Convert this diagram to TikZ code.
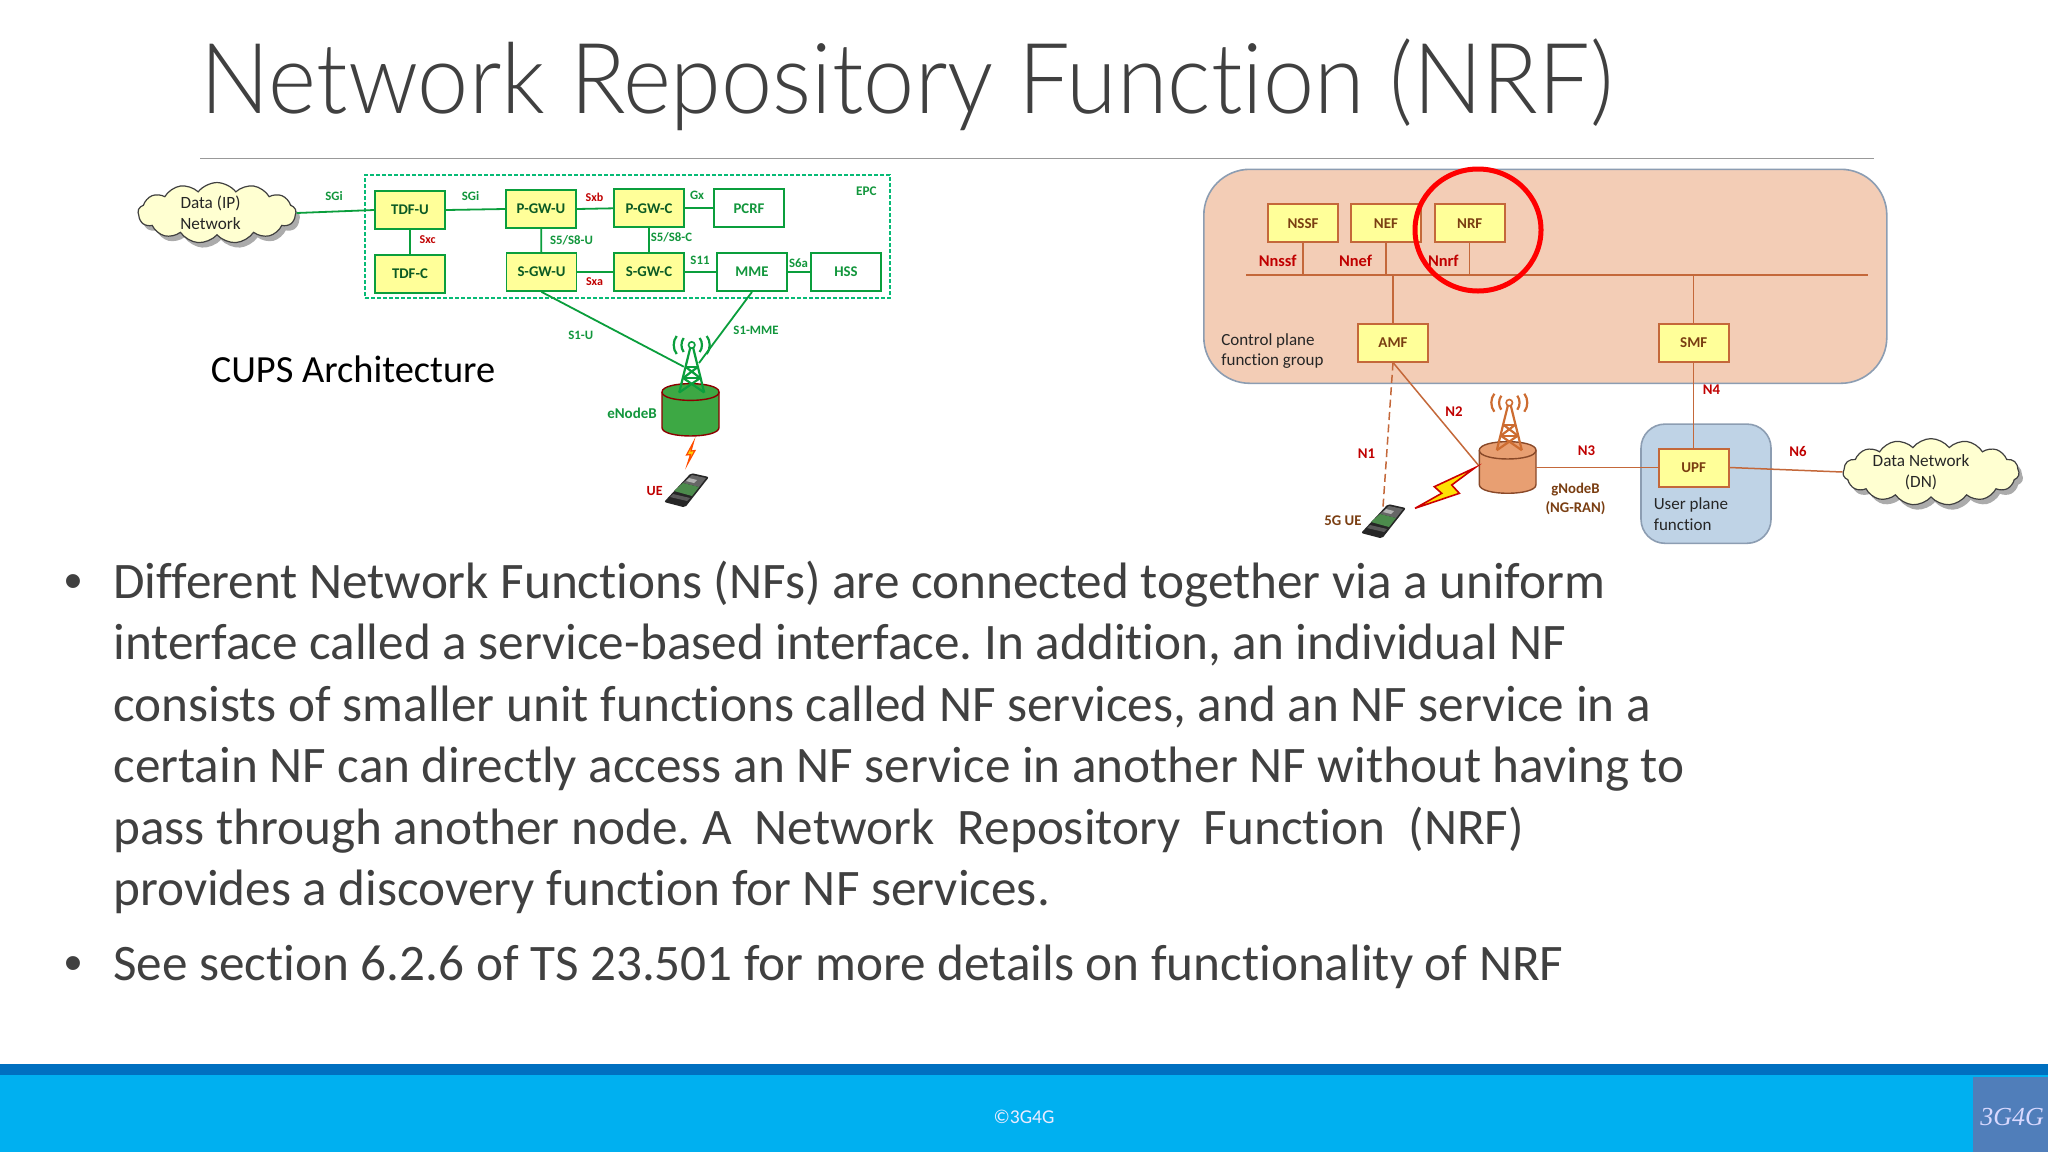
\documentclass[tikz,border=0pt]{standalone}
\usepackage{fontspec}
\setmainfont{Carlito}[Ligatures=NoCommon]
\newfontfamily\titlefont{Lato Light}[FakeStretch=0.937,Ligatures=NoCommon]
\newfontfamily\logofont{Liberation Serif}
\newfontfamily\bulfont{Liberation Sans}
\usetikzlibrary{shapes.geometric,shapes.symbols,shadows,calc}
\definecolor{gline}{HTML}{0A9E3C}
\definecolor{gtxt}{HTML}{12963C}
\definecolor{rtxt}{HTML}{C00000}
\definecolor{brn}{HTML}{C4683A}
\definecolor{btxt}{HTML}{7A3E12}
\definecolor{ybox}{HTML}{FFFF99}
\definecolor{slate}{HTML}{404040}
\definecolor{cpfill}{HTML}{F3CDB6}
\definecolor{upfill}{HTML}{BFD3E6}
\definecolor{panedge}{HTML}{8C9DB2}
\definecolor{cylgreen}{HTML}{3DA844}
\definecolor{cylorange}{HTML}{E89F72}
\newcommand{\mycyl}[8]{% name, xl, xr, ytopcentre, ybotcentre, body, edge, ry
  \fill[#6] (#2,#4) -- (#2,#5) .. controls (#2,#5+#8*1.33) and (#3,#5+#8*1.33) .. (#3,#5) -- (#3,#4) -- cycle;
  \draw[#7,line width=0.7pt] (#2,#4) -- (#2,#5) .. controls (#2,#5+#8*1.33) and (#3,#5+#8*1.33) .. (#3,#5) -- (#3,#4);
  \filldraw[fill=#6,draw=#7,line width=0.7pt] (#2,#4) .. controls (#2,#4-#8*1.33) and (#3,#4-#8*1.33) .. (#3,#4) .. controls (#3,#4+#8*1.33) and (#2,#4+#8*1.33) .. (#2,#4) -- cycle;
  \node[inner sep=0pt,minimum width=28pt,minimum height=20pt] (#1) at ({(#2+#3)/2},{(#4+#5)/2}) {};
}
\tikzset{
 x=0.5pt,y=-0.5pt,
 gbox/.style={draw=gline,line width=0.9pt,fill=ybox,minimum width=35pt,minimum height=19pt,inner sep=0pt,text=gtxt!60!black,font=\fontsize{7.4}{9}\selectfont\bfseries},
 wbox/.style={gbox,fill=white,text=gtxt},
 obox/.style={draw=brn,line width=1pt,fill=ybox,minimum width=35pt,minimum height=19pt,inner sep=0pt,text=btxt,font=\fontsize{7.5}{9}\selectfont\bfseries},
 gl/.style={draw=gline,line width=0.9pt},
 ol/.style={draw=brn,line width=0.75pt},
 glab/.style={text=gtxt,inner sep=0pt,font=\fontsize{6.4}{8}\selectfont\bfseries},
 rlab/.style={text=rtxt,inner sep=0pt,font=\fontsize{6}{7}\selectfont\bfseries},
 nlab/.style={text=rtxt,inner sep=0pt,font=\fontsize{7.4}{9}\selectfont\bfseries},
 blab/.style={text=btxt,inner sep=0pt,font=\fontsize{7.4}{9}\selectfont\bfseries},
 klab/.style={text=black!85,inner sep=0pt,font=\fontsize{8.5}{10}\selectfont},
 body/.style={anchor=base west,inner sep=0pt,text=slate,font=\frenchspacing\fontsize{25.6}{31}\selectfont},
 bull/.style={anchor=base,inner sep=0pt,text=slate,font=\bulfont\fontsize{25.6}{31}\selectfont},
 dcloud/.style={cloud,cloud puffs=13,cloud puff arc=105,aspect=2.6,draw=black!75,line width=0.6pt,fill=ybox!45!white,inner sep=0pt,align=center,text=black!85,
   font=\fontsize{8.6}{10.5}\selectfont,drop shadow={shadow xshift=2pt,shadow yshift=-2.5pt,fill=black!55,opacity=.6}},
 tower/.pic={
   \begin{scope}[draw=#1,line width=1.1pt]
   \draw (-12.5,47.5) -- (-1.5,3) (12.5,47.5) -- (1.5,3);
   \draw (-6,22) -- (6,22) (-8.5,33) -- (8.5,33);
   \draw (-6,22) -- (8.5,33) (6,22) -- (-8.5,33) (-8.5,33) -- (12.5,47.5) (8.5,33) -- (-12.5,47.5);
   \draw[line width=.8pt] (0,0) circle[radius=3.2];
   \draw (-8,-7) .. controls (-11,-3) and (-11,3) .. (-8,7);
   \draw (8,-7) .. controls (11,-3) and (11,3) .. (8,7);
   \draw (-15,-9) .. controls (-19,-4) and (-19,4) .. (-15,9);
   \draw (15,-9) .. controls (19,-4) and (19,4) .. (15,9);
   \end{scope}},
 phone/.pic={
   \fill[black!85,rounded corners=1pt] (5,-17) -- (23,-13) -- (-1,17.5) -- (-22,12) -- cycle;
   \fill[black!60] (6,-15) -- (20,-12) -- (13,-3) -- (-3,-7) -- cycle;
   \fill[white!70!black] (3,-12) -- (11,-10) -- (8,-7) -- (0,-9) -- cycle;
   \fill[green!35!black!70] (-3,-7) -- (13,-3) -- (6,6) -- (-12,1) -- cycle;
   \fill[black!65] (-13,4) -- (4,8) -- (1,11) -- (-16,7) -- cycle;
 }
}
\begin{document}
\begin{tikzpicture}
\useasboundingbox (0,0) rectangle (2048,1152);
\fill[white] (0,0) rectangle (2048,1152);

% ---- title
\node[anchor=base west,inner sep=0pt,text=slate,font=\titlefont\fontsize{49}{59}\selectfont] (title) at (200.5,113) {Network Repository Function (NRF)};
\coordinate (ruleL) at (200,158.7);
\coordinate (ruleR) at (1874,158.7);
\draw[black!40,line width=0.6pt] (ruleL) -- (ruleR);

% ---- left: EPC
\node[draw=gline!70!cyan,dash pattern=on 2pt off 1pt,line width=0.6pt,minimum width=262.5pt,minimum height=61.5pt,inner sep=0pt] (epc) at (627.5,236.5) {};
\node[gbox] (tdfu) at (410,210) {TDF-U};
\node[gbox] (pgwu) at (541,209) {P-GW-U};
\node[gbox] (pgwc) at (649,208.3) {P-GW-C};
\node[wbox] (pcrf) at (749,208.3) {PCRF};
\node[gbox] (tdfc) at (410,274) {TDF-C};
\node[gbox] (sgwu) at (541.5,272) {S-GW-U};
\node[gbox] (sgwc) at (649,272) {S-GW-C};
\node[wbox] (mme) at (752,272) {MME};
\node[wbox] (hss) at (846,272) {HSS};
\node[dcloud,minimum width=79pt,minimum height=30pt] (dip) at (217,213) {Data (IP)\hspace*{6.5pt}\\Network\hspace*{6.5pt}};

\draw[gl] (dip.east) -- (tdfu.west);
\draw[gl] (tdfu.east) -- (pgwu.west);
\draw[gl] (pgwu.east) -- (pgwc.west);
\draw[gl] (pgwc.east) -- (pcrf.west);
\draw[gl] (tdfu) -- (tdfc);
\draw[gl] (pgwu) -- (sgwu);
\draw[gl] (pgwc) -- (sgwc);
\draw[gl] (sgwu) -- (sgwc);
\draw[gl] (sgwc) -- (mme);
\draw[gl] (mme) -- (hss);

\node[glab] (l1) at (334,196) {SGi};
\node[glab] (l2) at (470.5,196) {SGi};
\node[rlab] (l3) at (594.5,197.7) {Sxb};
\node[glab] (l4) at (697,195) {Gx};
\node[glab,font=\fontsize{6.6}{8}\selectfont\bfseries] (l5) at (866.4,191.7) {EPC};
\node[rlab] (l6) at (427.6,240) {Sxc};
\node[glab] (l7) at (571.5,240) {S5/S8-U};
\node[glab] (l8) at (671.5,237.7) {S5/S8-C};
\node[glab] (l9) at (700,260.7) {S11};
\node[glab] (l10) at (798.6,262.7) {S6a};
\node[rlab] (l11) at (594.5,282) {Sxa};
\node[glab] (l12) at (580.7,335.7) {S1-U};
\node[glab] (l13) at (756,330.3) {S1-MME};
\node[glab,font=\fontsize{7.5}{9}\selectfont\bfseries] (l14) at (632,413) {eNodeB};
\node[rlab,font=\fontsize{7}{8}\selectfont\bfseries] (l15) at (654.7,491) {UE};
\node[inner sep=0pt,text=black,font=\fontsize{19.2}{23}\selectfont] (cups) at (353,369) {CUPS Architecture};

% eNodeB
\mycyl{enb}{662}{719}{392}{427.6}{cylgreen}{red!55!black}{8.4}
\coordinate (twrL) at (691.7,345);
\coordinate (s1u) at (683.8,366.7);
\coordinate (s1m) at (699,363);
\draw[gl] (sgwu.south) -- (s1u);
\draw[gl] (mme.south) -- (s1m);
\pic at (twrL) {tower=gline};
\draw[draw=orange!60!red,line width=0.6pt,fill=yellow!70!orange] (693.5,442) -- (686.5,455) -- (690.5,454.5) -- (687.5,464) -- (695,450.5) -- (691,451) -- cycle;
\pic at (686,490) {phone};

% ---- right: control plane
\node[draw=panedge,line width=0.8pt,fill=cpfill,rounded corners=23pt,minimum width=341.5pt,minimum height=107pt,inner sep=0pt] (cp) at (1545.3,276.3) {};
\node[draw=panedge,line width=0.8pt,fill=upfill,rounded corners=12pt,minimum width=65pt,minimum height=59.6pt,inner sep=0pt] (up) at (1706,483.7) {};

\node[obox] (nssf) at (1303,223.3) {NSSF};
\node[obox] (nef) at (1386,223.3) {NEF};
\node[obox] (nrf) at (1469.7,223.3) {NRF};
\node[obox] (amf) at (1393,342.5) {AMF};
\node[obox] (smf) at (1693.7,342.5) {SMF};
\node[obox] (upf) at (1693.7,467.5) {UPF};
\coordinate (busL) at (1246,275.3);
\coordinate (busR) at (1868,275.3);
\draw[ol,line width=1pt] (busL) -- (busR);
\draw[ol] (nssf.south) -- (nssf.south |- busL);
\draw[ol] (nef.south) -- (nef.south |- busL);
\draw[ol] (nrf.south) -- (nrf.south |- busL);
\draw[ol] (amf.north) -- (amf.north |- busL);
\draw[ol] (smf.north) -- (smf.north |- busL);
\draw[ol] (smf) -- (upf);

\node[nlab,font=\fontsize{8.2}{10}\selectfont\bfseries] (nn1) at (1277.6,261) {Nnssf};
\node[nlab,font=\fontsize{8.2}{10}\selectfont\bfseries] (nn2) at (1355.5,261) {Nnef};
\node[nlab,font=\fontsize{8.2}{10}\selectfont\bfseries] (nn3) at (1443.3,260.5) {Nnrf};
\node[draw=red,line width=2.5pt,ellipse,minimum width=63pt,minimum height=61pt,inner sep=0pt] (hl) at (1478,230) {};
\node[klab,anchor=west] (c1) at (1221,341.3) {Control plane};
\node[klab,anchor=west] (c2) at (1221,361.3) {function group};
\node[klab,anchor=west] (u1) at (1653.4,505) {User plane};
\node[klab,anchor=west] (u2) at (1653.4,524.5) {function};

\node[nlab] (n4) at (1711.5,390) {N4};
\node[nlab] (n2) at (1454,411.3) {N2};
\node[nlab] (n1) at (1366.5,453.3) {N1};
\node[nlab] (n3) at (1586.5,451) {N3};
\node[nlab] (n6) at (1798,451.7) {N6};
\node[blab] (g1) at (1575.5,490) {gNodeB};
\node[blab] (g2) at (1575.5,507.7) {(NG-RAN)};
\node[blab] (g3) at (1343,520.7) {5G UE};

% gNodeB
\mycyl{gnb}{1479.3}{1536}{450.3}{484.6}{cylorange}{brn!70!black}{8.7}
\coordinate (twrR) at (1509.3,402.7);
\pic at (twrR) {tower=brn!85!orange};
\coordinate (gnbW) at (1479,466);
\coordinate (ueT) at (1383,507);
\coordinate (amfB) at (amf.south);
\draw[ol] (amfB) -- (gnbW);
\draw[ol,dash pattern=on 4pt off 2.2pt] (amfB) -- (ueT);
\draw[ol] (gnb.east |- upf.west) -- (upf.west);
\node[dcloud,aspect=3.5,cloud puffs=15,minimum width=86pt,minimum height=28pt] (dn) at (1931,472) {Data Network\hspace*{10pt}\\(DN)\hspace*{10pt}};
\draw[ol] (upf.east) -- (dn.west);
\draw[draw=red!80!black,line width=0.8pt,fill=yellow!85!orange] (1475,467.7) -- (1434.3,486.7) -- (1441.7,493.3) -- (1415,508.3) -- (1459.3,493.3) -- (1451.7,485) -- cycle;
\pic at (1383,521) {phone};

% ---- body text
\node[bull] (b1) at (73,598) {•};
\node[body] (t1) at (113,598) {Different Network Functions (NFs) are connected together via a uniform};
\node[body] (t2) at (113,659.5) {interface called a service-based interface. In addition, an individual NF};
\node[body] (t3) at (113,721) {consists of smaller unit functions called NF services, and an NF service in a};
\node[body] (t4) at (113,782.4) {certain NF can directly access an NF service in another NF without having to};
\node[body] (t5) at (113,844) {pass through another node. A\ \ Network\ \ Repository\ \ Function\ \ (NRF)};
\node[body] (t6) at (113,905.5) {provides a discovery function for NF services.};
\node[bull] (b2) at (73,980) {•};
\node[body] (t7) at (113,980) {See section 6.2.6 of TS 23.501 for more details on functionality of NRF};

% ---- footer
\fill[fill={rgb,255:red,0;green,112;blue,192}] (0,1063.5) rectangle (2048,1075);
\fill[fill={rgb,255:red,0;green,176;blue,240}] (0,1075) rectangle (2048,1152);
\fill[fill={rgb,255:red,80;green,126;blue,186}] (1973,1076.5) rectangle (2048,1152);
\node[inner sep=0pt,text=white!92!blue,font=\fontsize{9.8}{12}\selectfont] (copy) at (1024,1117) {©3G4G};
\node[inner sep=0pt,text=white!85!blue,font=\logofont\itshape\fontsize{13}{15}\selectfont] (logo) at (2012,1117) {3G4G};
\end{tikzpicture}
\end{document}
